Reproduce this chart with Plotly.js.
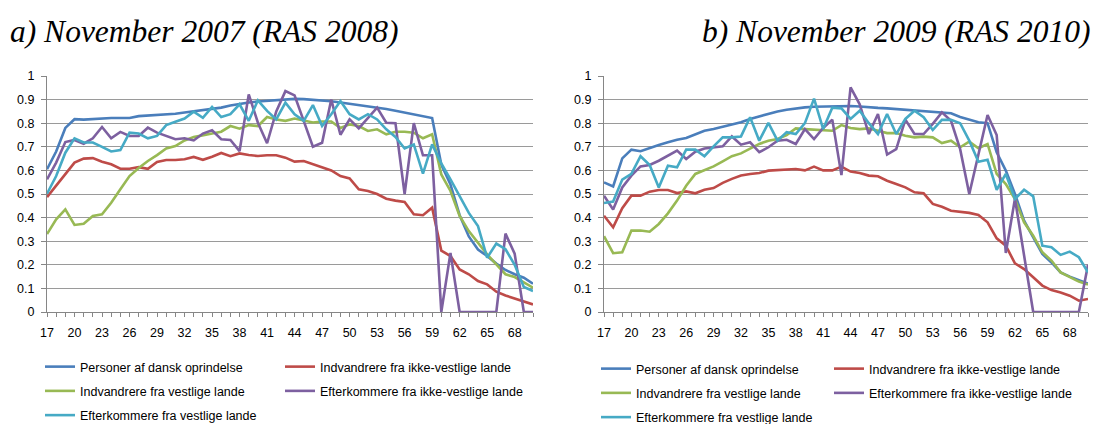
<!DOCTYPE html>
<html>
<head>
<meta charset="utf-8">
<script src="https://cdn.plot.ly/plotly-3.0.1.min.js"></script>
<style>
  html, body { margin: 0; padding: 0; background: #fff; }
  #chart { width: 1095px; height: 424px; }
</style>
</head>
<body>
<div id="chart"></div>
<script>
// Ages (x categories)
const ages = [];
for (let a = 17; a <= 70; a++) ages.push(a);

const seriesNames = [
  "Personer af dansk oprindelse",
  "Indvandrere fra ikke-vestlige lande",
  "Indvandrere fra vestlige lande",
  "Efterkommere fra ikke-vestlige lande",
  "Efterkommere fra vestlige lande"
];

const titles = ["a) November 2007 (RAS 2008)", "b) November 2009 (RAS 2010)"];

// a) November 2007 (RAS 2008)
const dansk2007 = [0.605,0.68,0.78,0.817,0.815,0.818,0.82,0.822,0.822,0.822,0.83,0.832,0.835,0.838,0.84,0.845,0.85,0.855,0.862,0.866,0.875,0.882,0.888,0.892,0.895,0.9,0.902,0.903,0.902,0.9,0.897,0.893,0.888,0.883,0.878,0.872,0.866,0.86,0.853,0.845,0.836,0.828,0.822,0.625,0.54,0.41,0.32,0.265,0.237,0.205,0.178,0.16,0.145,0.12];
const indIkkeVest2007 = [0.487,0.535,0.583,0.633,0.65,0.652,0.637,0.626,0.607,0.607,0.614,0.607,0.636,0.644,0.644,0.647,0.657,0.645,0.658,0.674,0.66,0.672,0.665,0.661,0.664,0.664,0.654,0.637,0.64,0.626,0.612,0.6,0.576,0.566,0.52,0.513,0.5,0.48,0.472,0.466,0.414,0.41,0.442,0.26,0.237,0.18,0.16,0.131,0.117,0.086,0.07,0.058,0.044,0.032];
const indVest2007 = [0.33,0.393,0.435,0.369,0.374,0.407,0.414,0.463,0.52,0.576,0.61,0.64,0.665,0.693,0.703,0.727,0.741,0.75,0.756,0.764,0.788,0.777,0.792,0.788,0.826,0.816,0.81,0.82,0.81,0.803,0.807,0.807,0.78,0.795,0.788,0.767,0.774,0.753,0.764,0.764,0.76,0.736,0.753,0.583,0.513,0.407,0.343,0.294,0.244,0.202,0.16,0.148,0.124,0.103];
const eftIkkeVest2007 = [0.562,0.633,0.72,0.729,0.713,0.736,0.784,0.736,0.763,0.746,0.746,0.781,0.76,0.746,0.732,0.736,0.727,0.756,0.77,0.732,0.729,0.682,0.922,0.802,0.715,0.85,0.936,0.918,0.81,0.7,0.717,0.9,0.751,0.816,0.778,0.824,0.866,0.802,0.8,0.5,0.8,0.664,0.664,0,0.25,0,0,0,0,0,0.332,0.247,0,0];
const eftVest2007 = [0.501,0.576,0.675,0.736,0.718,0.718,0.7,0.68,0.686,0.76,0.756,0.736,0.746,0.792,0.806,0.82,0.849,0.823,0.869,0.826,0.838,0.88,0.81,0.897,0.852,0.816,0.887,0.838,0.81,0.877,0.788,0.838,0.894,0.838,0.816,0.838,0.816,0.774,0.742,0.693,0.71,0.586,0.71,0.63,0.562,0.49,0.42,0.364,0.23,0.29,0.266,0.2,0.106,0.089];

// b) November 2009 (RAS 2010)
const dansk2009 = [0.549,0.532,0.651,0.688,0.681,0.695,0.708,0.719,0.73,0.737,0.754,0.768,0.775,0.785,0.794,0.804,0.818,0.829,0.839,0.85,0.857,0.863,0.867,0.87,0.871,0.874,0.874,0.873,0.871,0.867,0.865,0.863,0.86,0.857,0.855,0.852,0.849,0.846,0.842,0.826,0.815,0.804,0.8,0.677,0.599,0.5,0.387,0.316,0.246,0.21,0.168,0.15,0.135,0.12];
const indIkkeVest2009 = [0.408,0.359,0.44,0.493,0.493,0.51,0.517,0.517,0.504,0.511,0.503,0.518,0.525,0.547,0.564,0.578,0.585,0.589,0.599,0.602,0.602,0.606,0.6,0.616,0.6,0.6,0.616,0.595,0.589,0.578,0.575,0.556,0.542,0.528,0.507,0.503,0.458,0.446,0.429,0.425,0.42,0.411,0.38,0.312,0.281,0.206,0.182,0.147,0.112,0.093,0.083,0.069,0.048,0.055];
const indVest2009 = [0.321,0.249,0.253,0.345,0.345,0.34,0.373,0.418,0.472,0.535,0.585,0.602,0.617,0.638,0.66,0.672,0.693,0.712,0.726,0.733,0.75,0.778,0.775,0.773,0.768,0.768,0.792,0.78,0.775,0.778,0.768,0.758,0.758,0.747,0.74,0.743,0.74,0.716,0.726,0.698,0.722,0.694,0.712,0.585,0.542,0.479,0.38,0.323,0.253,0.218,0.168,0.147,0.129,0.116];
const eftIkkeVest2009 = [0.493,0.434,0.528,0.578,0.617,0.623,0.641,0.662,0.684,0.648,0.679,0.693,0.698,0.702,0.744,0.709,0.719,0.677,0.698,0.726,0.73,0.712,0.775,0.733,0.78,0.815,0.58,0.952,0.88,0.754,0.839,0.667,0.69,0.815,0.754,0.754,0.797,0.846,0.81,0.69,0.5,0.67,0.835,0.75,0.25,0.48,0.24,0,0,0,0,0,0,0.2];
const eftVest2009 = [0.462,0.468,0.561,0.585,0.66,0.623,0.528,0.62,0.613,0.688,0.688,0.66,0.702,0.74,0.74,0.744,0.825,0.726,0.801,0.726,0.762,0.754,0.8,0.904,0.775,0.866,0.863,0.818,0.853,0.8,0.754,0.839,0.754,0.818,0.853,0.825,0.771,0.814,0.814,0.8,0.726,0.637,0.645,0.518,0.585,0.479,0.518,0.49,0.281,0.274,0.242,0.256,0.232,0.168];

const xTickStart = 17, xTickStep = 3;

const colors = ["#4A7EBB", "#BE4B48", "#98B954", "#7D60A0", "#46AAC5"];
const set2007 = [dansk2007, indIkkeVest2007, indVest2007, eftIkkeVest2007, eftVest2007];
const set2009 = [dansk2009, indIkkeVest2009, indVest2009, eftIkkeVest2009, eftVest2009];

const W = 1095, H = 424;
const traces = [];
function addSet(vals, xa, ya, legA, legB, tag) {
  vals.forEach((v, i) => {
    traces.push({
      x: ages, y: v, type: "scatter", mode: "lines",
      name: seriesNames[i],
      xaxis: xa, yaxis: ya,
      line: { color: colors[i], width: 2.6 },
      legend: (i % 2 === 0) ? legA : legB,
      legendgroup: tag + i,
      hoverinfo: "skip"
    });
  });
}
addSet(set2007, "x", "y", "legend", "legend2", "a");
addSet(set2009, "x2", "y2", "legend3", "legend4", "b");

const gridCol = "#9a9a9a", axCol = "#868686";
const tickFont = { family: "Liberation Sans, Arial, sans-serif", size: 12.5, color: "#000" };
function xAxis(domain, anchor) {
  return {
    domain: domain, anchor: anchor, range: [17, 70],
    tick0: xTickStart, dtick: xTickStep, tickmode: "linear",
    ticks: "outside", ticklen: 4, tickcolor: axCol, tickwidth: 1,
    minor: { dtick: 1, tick0: 17, ticks: "outside", ticklen: 4, tickcolor: axCol, tickwidth: 1, showgrid: false },
    showline: true, linecolor: axCol, linewidth: 1,
    showgrid: false, zeroline: false,
    tickfont: tickFont, ticklabelstandoff: 5, fixedrange: true
  };
}
function yAxis(domain, anchor) {
  return {
    domain: domain, anchor: anchor, range: [0, 1],
    tick0: 0, dtick: 0.1, tickmode: "linear",
    ticks: "outside", ticklen: 5, tickcolor: axCol,
    showline: true, linecolor: axCol, linewidth: 1,
    showgrid: true, gridcolor: gridCol, gridwidth: 1, zeroline: false,
    tickfont: tickFont, ticklabelstandoff: 4, fixedrange: true
  };
}
const yDom = [1 - 312 / H, 1 - 76 / H];
const legFont = { family: "Liberation Sans, Arial, sans-serif", size: 12.5, color: "#000" };
function leg(xpx, ypx) {
  return {
    x: xpx / W, y: 1 - ypx / H, xanchor: "left", yanchor: "top",
    orientation: "v", bgcolor: "rgba(0,0,0,0)", borderwidth: 0,
    font: legFont, tracegroupgap: 5, itemwidth: 30, maxheight: 300
  };
}

const titleFont = { family: "Liberation Serif, Times New Roman, serif", size: 31.5, style: "italic", color: "#000" };
const layout = {
  width: W, height: H,
  margin: { l: 0, r: 0, t: 0, b: 0, autoexpand: false },
  paper_bgcolor: "#fff", plot_bgcolor: "#fff",
  showlegend: true,
  xaxis: xAxis([47 / W, 533 / W], "y"),
  yaxis: yAxis(yDom, "x"),
  xaxis2: xAxis([604 / W, 1088 / W], "y2"),
  yaxis2: yAxis(yDom, "x2"),
  legend: leg(40, 352),
  legend2: leg(280, 352),
  legend3: leg(596, 354),
  legend4: leg(829, 354),
  annotations: [
    { text: titles[0], xref: "paper", yref: "paper", x: 8 / W, y: 1 - 32 / H,
      xanchor: "left", yanchor: "middle", showarrow: false, font: titleFont },
    { text: titles[1], xref: "paper", yref: "paper", x: 1092 / W, y: 1 - 32 / H,
      xanchor: "right", yanchor: "middle", showarrow: false, font: titleFont }
  ]
};

Plotly.newPlot("chart", traces, layout, { staticPlot: true, displayModeBar: false });
</script>
</body>
</html>
